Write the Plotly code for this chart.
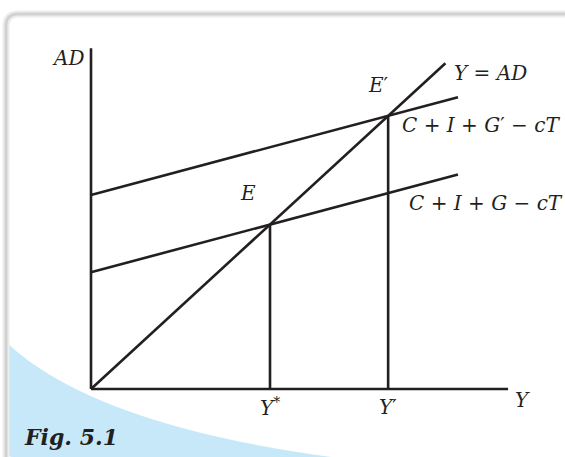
import plotly.graph_objects as go

# ---- data (model units) ----
ad_x = [0.0, 10.25]                 # x extent of the aggregate demand lines
ad_initial = [3.55, 6.52]           # C + I + G - cT
ad_new = [5.90, 8.87]               # C + I + G' - cT
guide_x = [0.0, 9.9]                # Y = AD (45 degree line)
guide_y = [0.0, 9.9]
eq_incomes = [5.0, 8.3]             # Y*, Y'
eq_labels = ["<i>Y</i><sup>*</sup>", "<i>Y</i>′"]
y_axis_top = 10.36
x_axis_end = 11.65

W, H = 565, 457
INK = "#231f20"
LW = 2.6
SERIF = "DejaVu Serif"

def px(x):
    return x / W

def py(y):
    return 1 - y / H

fig = go.Figure()

# axes
fig.add_trace(go.Scatter(x=[0, 0], y=[0, y_axis_top], mode="lines",
                         line=dict(color=INK, width=LW), hoverinfo="skip"))
fig.add_trace(go.Scatter(x=[0, x_axis_end], y=[0, 0], mode="lines",
                         line=dict(color=INK, width=LW), hoverinfo="skip"))
# 45 degree line
fig.add_trace(go.Scatter(x=guide_x, y=guide_y, mode="lines",
                         line=dict(color=INK, width=LW), hoverinfo="skip"))
# AD lines
fig.add_trace(go.Scatter(x=ad_x, y=ad_initial, mode="lines",
                         line=dict(color=INK, width=LW), hoverinfo="skip"))
fig.add_trace(go.Scatter(x=ad_x, y=ad_new, mode="lines",
                         line=dict(color=INK, width=LW), hoverinfo="skip"))
# drop lines at equilibria
for yq in eq_incomes:
    fig.add_trace(go.Scatter(x=[yq, yq], y=[0, yq], mode="lines",
                             line=dict(color=INK, width=LW), hoverinfo="skip"))

tf = dict(family=SERIF, size=20, color=INK)
ann = []
ann.append(dict(x=-0.14, y=10.06, text="<i>AD</i>", xanchor="right", yanchor="middle"))
ann.append(dict(x=x_axis_end + 0.39, y=-0.33, text="<i>Y</i>", xanchor="center", yanchor="middle"))
for yq, lab in zip(eq_incomes, eq_labels):
    ann.append(dict(x=yq, y=-0.55, text=lab, xanchor="center", yanchor="middle"))
ann.append(dict(x=4.39, y=5.96, text="<i>E</i>", xanchor="center", yanchor="middle"))
ann.append(dict(x=8.04, y=9.24, text="<i>E</i>′", xanchor="center", yanchor="middle"))
ann.append(dict(x=10.08, y=9.6, text="<i>Y</i> = <i>AD</i>", xanchor="left", yanchor="middle"))
ann.append(dict(x=8.63, y=8.02, text="<i>C</i> + <i>I</i> + <i>G</i>′ − <i>cT</i>", xanchor="left", yanchor="middle"))
ann.append(dict(x=8.83, y=5.65, text="<i>C</i> + <i>I</i> + <i>G</i> − <i>cT</i>", xanchor="left", yanchor="middle"))
for a in ann:
    a.update(xref="x", yref="y", showarrow=False, font=tf)

# figure caption
ann.append(dict(x=px(22), y=py(437), xref="paper", yref="paper", xanchor="left",
                yanchor="middle", showarrow=False, text="<b><i>Fig. 5.1</i></b>",
                font=dict(family="DejaVu Serif", size=22, color=INK)))

shapes = []
# light blue corner region
blue_path = (f"M {px(7)},{py(343)} Q {px(95)},{py(425)} {px(331)},{py(457)} "
             f"L {px(13)},{py(457)} Q {px(7)},{py(457)} {px(7)},{py(451)} Z")
shapes.append(dict(type="path", xref="paper", yref="paper", path=blue_path,
                   fillcolor="#c7e8f8", line=dict(width=0), layer="below"))
# panel border with soft shadow
border_path = (f"M {px(6)},{py(460)} L {px(6)},{py(26)} Q {px(6)},{py(14)} {px(18)},{py(14)} "
               f"L {px(570)},{py(14)}")
shapes.append(dict(type="path", xref="paper", yref="paper", path=border_path,
                   line=dict(color="#ededed", width=7), layer="below"))
shapes.append(dict(type="path", xref="paper", yref="paper", path=border_path,
                   line=dict(color="#d2d2d2", width=3), layer="below"))

ox, oy = 91, 389
ux, uy = 35.8, 32.9
fig.update_layout(
    width=W, height=H,
    margin=dict(l=0, r=0, t=0, b=0),
    paper_bgcolor="white", plot_bgcolor="rgba(0,0,0,0)",
    showlegend=False,
    xaxis=dict(range=[-ox / ux, (W - ox) / ux], visible=False, fixedrange=True),
    yaxis=dict(range=[-(H - oy) / uy, oy / uy], visible=False, fixedrange=True),
    annotations=ann, shapes=shapes,
)

fig.write_html("out.html", config={"displayModeBar": False},
               post_script="document.body.style.margin='0';document.body.style.overflow='hidden';")
